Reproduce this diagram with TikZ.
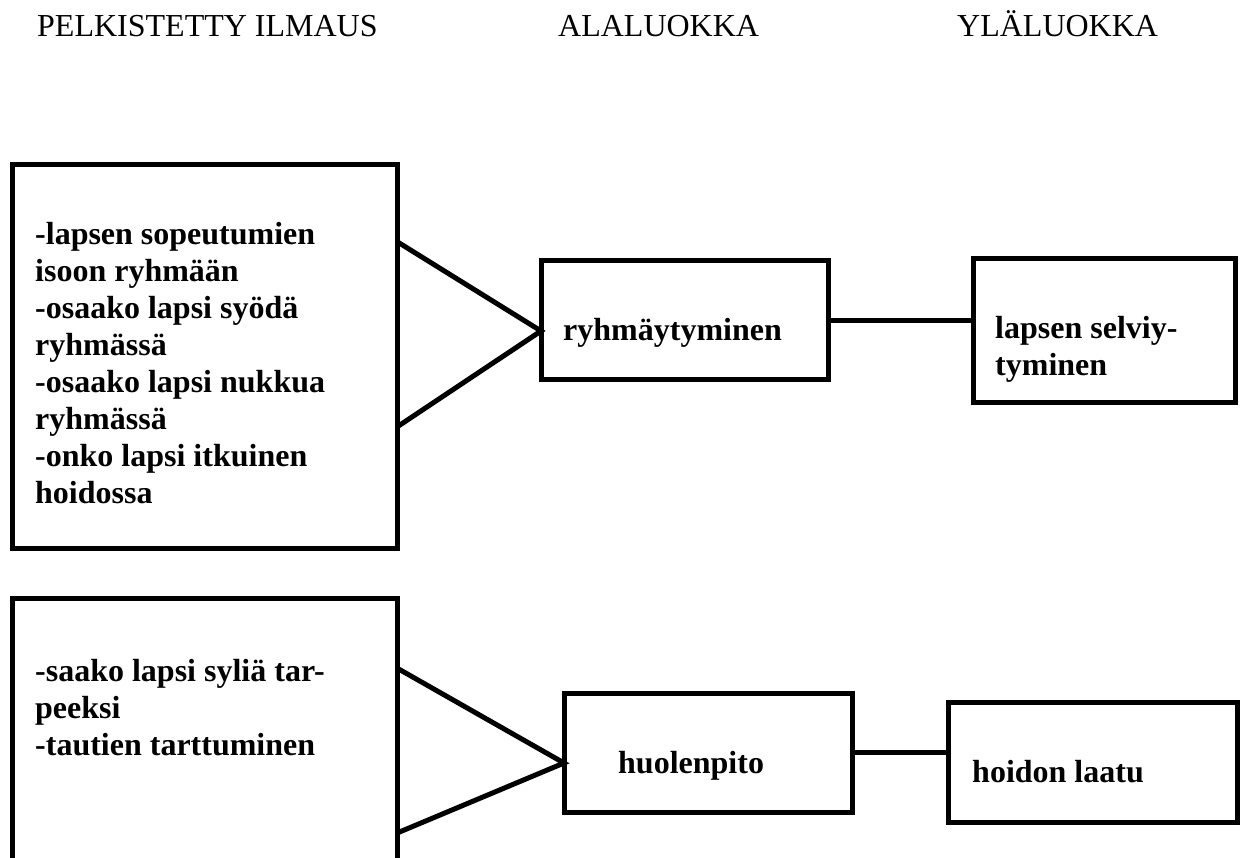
\documentclass[tikz,border=0pt]{standalone}
\usepackage{fontspec}
\setmainfont{Liberation Serif}
\usetikzlibrary{calc}

\begin{document}
\begin{tikzpicture}[x=1pt, y=-1pt,
    box/.style={draw, rectangle, line width=5pt, outer sep=0pt, inner sep=0pt},
    txt/.style={anchor=north west, inner sep=0pt, align=left, font=\fontsize{32}{37}\selectfont\bfseries},
    head/.style={anchor=base west, inner sep=0pt, font=\fontsize{32}{37}\selectfont},
    link/.style={line width=5pt}]
    \useasboundingbox (0,0) rectangle (1245,858);

    % headings
    \node[head] (hpel) at (37,37) {PELKISTETTY ILMAUS};
    \node[head] (hala) at (558,37) {ALALUOKKA};
    \node[head] (hyla) at (957,37) {YLÄLUOKKA};

    % upper row
    \node[box, minimum width=385pt, minimum height=383pt] (pel1) at (204.5,356.5) {};
    \node[box, minimum width=287pt, minimum height=119pt] (ala1) at (684.5,320.5) {};
    \node[box, minimum width=262pt, minimum height=144pt] (yla1) at (1104,331) {};
    \node[txt] (tpel1) at (35,222.4) {-lapsen sopeutumien\\isoon ryhmään\\-osaako lapsi syödä\\ryhmässä\\-osaako lapsi nukkua\\ryhmässä\\-onko lapsi itkuinen\\hoidossa};
    \node[txt] (tala1) at (563,318.4) {ryhmäytyminen};
    \node[txt] (tyla1) at (995,316.4) {lapsen selviy-\\tyminen};

    \draw[link] ($(pel1.north east)!0.2!(pel1.south east)$) -- ([yshift=-10.5pt]ala1.west)
        -- ($(pel1.north east)!0.684!(pel1.south east)$);
    \draw[link] (ala1.east) -- (ala1.east -| yla1.west);

    % lower row
    \node[box, minimum width=385pt, minimum height=292pt] (pel2) at (204.5,744) {};
    \node[box, minimum width=288pt, minimum height=119pt] (ala2) at (708,752.5) {};
    \node[box, minimum width=289pt, minimum height=120pt] (yla2) at (1092.5,762) {};
    \node[txt] (tpel2) at (35,659.4) {-saako lapsi syliä tar-\\peeksi\\-tautien tarttuminen};
    \node[txt] (tala2) at (618,751.4) {huolenpito};
    \node[txt] (tyla2) at (972,760.4) {hoidon laatu};

    \draw[link] ($(pel2.north east)!0.24!(pel2.south east)$) -- ([yshift=-10.5pt]ala2.west)
        -- ($(pel2.north east)!0.805!(pel2.south east)$);
    \draw[link] (ala2.east) -- (ala2.east -| yla2.west);
\end{tikzpicture}
\end{document}
